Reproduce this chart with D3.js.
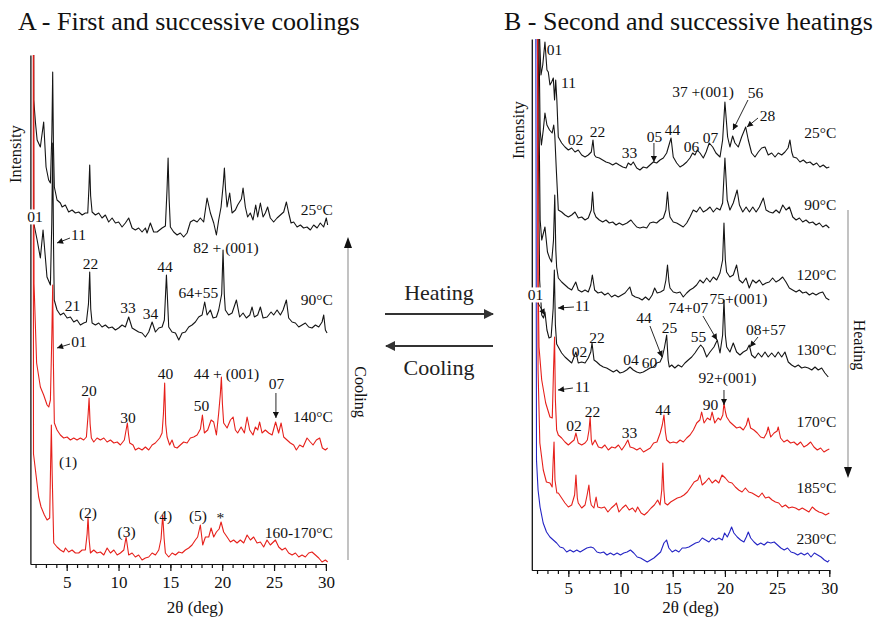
<!DOCTYPE html>
<html><head><meta charset="utf-8">
<script src="https://cdn.jsdelivr.net/npm/d3@7"></script>
<style>
html,body{margin:0;padding:0;background:#fff;}
svg{display:block;font-family:"Liberation Serif","Times New Roman",serif;}
svg text{font-family:"Liberation Serif","Times New Roman",serif !important;}
</style></head><body>
<svg id="chart" width="878" height="619"></svg>
<script>
// ---------- Panel A: first and successive coolings (2θ in deg, stacked intensity) ----------
const cool25 = [[1.75,1000],[1.82,464],[2.0,440],[2.15,424],[2.46,417],[2.78,442],[3.01,397],[3.26,384],[3.43,381],[3.57,430],[3.65,492],[3.72,420],[3.81,377],[4.07,364],[4.39,361],[4.56,357],[4.87,359],[5.19,352],[5.52,354],[5.84,351],[6.16,352],[6.49,349],[6.8,351],[7.03,351],[7.14,375],[7.22,399],[7.31,368],[7.45,352],[7.77,349],[8.09,351],[8.41,346],[8.73,349],[9.05,342],[9.38,346],[9.7,341],[10.01,342],[10.34,337],[10.66,341],[10.98,346],[11.31,336],[11.62,334],[11.94,336],[12.27,332],[12.59,336],[12.75,331],[13.07,341],[13.39,332],[13.72,332],[14.2,336],[14.52,338],[14.68,375],[14.78,406],[14.88,365],[15.0,337],[15.32,332],[15.65,329],[15.96,331],[16.28,327],[16.61,331],[16.93,342],[17.25,344],[17.58,342],[17.89,346],[18.21,342],[18.54,366],[18.86,351],[19.18,341],[19.44,329],[19.66,344],[19.89,357],[20.1,380],[20.21,396],[20.32,375],[20.47,357],[20.72,371],[20.95,351],[21.27,354],[21.49,359],[21.85,365],[22.01,376],[22.23,357],[22.45,347],[22.71,351],[22.97,344],[23.23,359],[23.42,347],[23.68,361],[23.94,347],[24.16,351],[24.38,357],[24.64,346],[24.96,342],[25.29,346],[25.61,349],[25.93,352],[26.19,362],[26.41,351],[26.64,341],[26.89,342],[27.22,337],[27.54,339],[27.85,336],[28.18,337],[28.5,334],[28.82,339],[29.15,336],[29.46,341],[29.78,337],[30.04,346],[30.17,339]];
const cool90 = [[1.75,1000],[1.82,341],[2.15,324],[2.46,306],[2.72,334],[3.1,287],[3.43,279],[3.56,340],[3.65,421],[3.73,320],[3.8,264],[4.07,254],[4.39,249],[4.71,251],[5.04,246],[5.36,247],[5.68,242],[6.0,244],[6.32,239],[6.64,241],[6.9,242],[7.1,260],[7.22,292],[7.32,255],[7.45,241],[7.77,239],[8.09,241],[8.41,237],[8.73,239],[9.05,236],[9.38,237],[9.7,234],[10.01,236],[10.34,239],[10.66,237],[10.98,247],[11.31,236],[11.62,234],[11.94,232],[12.27,231],[12.59,227],[12.91,232],[13.24,242],[13.56,232],[13.88,236],[14.2,237],[14.42,244],[14.62,289],[14.84,237],[15.16,232],[15.49,231],[15.81,224],[16.13,231],[16.45,232],[16.77,237],[17.09,239],[17.41,242],[17.73,247],[18.06,249],[18.31,262],[18.54,249],[18.86,254],[19.12,246],[19.44,247],[19.66,254],[19.95,270],[20.08,314],[20.2,270],[20.3,254],[20.62,249],[20.95,251],[21.37,264],[21.68,247],[22.01,251],[22.33,246],[22.66,249],[22.88,257],[23.1,247],[23.42,249],[23.68,257],[23.94,246],[24.33,247],[24.71,252],[24.96,249],[25.29,254],[25.61,249],[25.87,254],[26.19,264],[26.41,246],[26.74,242],[27.06,241],[27.38,237],[27.7,239],[28.02,241],[28.34,237],[28.66,236],[28.99,239],[29.31,237],[29.63,242],[29.79,249],[29.95,234],[30.11,231]];
const cool140 = [[1.75,1000],[1.85,280],[2.1,201],[2.46,177],[2.78,169],[3.11,159],[3.27,157],[3.43,164],[3.57,230],[3.65,279],[3.72,200],[3.81,141],[4.07,134],[4.39,129],[4.71,126],[5.04,127],[5.36,124],[5.68,126],[6.0,124],[6.32,126],[6.64,124],[6.9,127],[7.07,150],[7.16,166],[7.26,140],[7.38,126],[7.61,122],[7.93,126],[8.25,124],[8.58,126],[8.9,122],[9.22,124],[9.55,121],[9.87,122],[10.18,119],[10.56,124],[10.85,141],[10.96,130],[11.08,121],[11.4,119],[11.62,114],[11.94,116],[12.27,114],[12.59,117],[12.91,114],[13.24,119],[13.55,121],[13.97,126],[14.2,131],[14.33,150],[14.45,181],[14.55,140],[14.68,127],[14.93,119],[15.16,124],[15.39,117],[15.65,116],[15.96,119],[16.28,122],[16.61,121],[16.93,126],[17.25,127],[17.58,129],[17.9,135],[18.09,149],[18.28,131],[18.6,134],[18.93,144],[19.18,142],[19.44,129],[19.66,151],[19.82,170],[19.92,187],[20.02,160],[20.14,141],[20.47,136],[20.79,144],[21.05,147],[21.27,134],[21.49,131],[21.82,137],[22.14,131],[22.4,147],[22.65,134],[22.97,129],[23.2,137],[23.42,134],[23.61,142],[23.84,131],[24.16,134],[24.48,131],[24.81,129],[25.15,142],[25.44,131],[25.68,141],[25.93,127],[26.25,124],[26.57,121],[26.89,119],[27.15,114],[27.47,119],[27.8,117],[28.18,126],[28.5,122],[28.76,119],[29.08,124],[29.4,126],[29.66,116],[29.95,114],[30.17,116]];
const cool165 = [[1.75,1000],[1.8,110],[2.1,84],[2.3,67],[2.53,57],[2.85,49],[3.11,44],[3.36,46],[3.45,100],[3.52,139],[3.6,90],[3.75,21],[4.07,17],[4.39,14],[4.71,12],[4.88,16],[5.19,12],[5.52,14],[5.84,11],[6.16,11],[6.49,14],[6.8,14],[6.97,30],[7.06,47],[7.16,25],[7.29,11],[7.61,14],[7.93,11],[8.25,12],[8.58,9],[8.9,16],[9.22,11],[9.55,14],[9.87,9],[10.18,11],[10.51,14],[10.73,27],[10.98,9],[11.31,11],[11.62,7],[11.94,9],[12.27,4],[12.59,6],[12.91,7],[13.24,11],[13.56,9],[13.88,14],[14.1,25],[14.26,49],[14.4,25],[14.52,11],[14.84,7],[15.17,11],[15.49,9],[15.81,12],[16.13,11],[16.45,14],[16.77,16],[17.09,19],[17.41,24],[17.63,27],[17.89,39],[18.12,19],[18.38,27],[18.7,27],[18.93,36],[19.18,27],[19.44,32],[19.7,35],[19.89,42],[20.14,32],[20.47,27],[20.79,22],[21.1,24],[21.43,21],[21.75,24],[22.07,21],[22.4,29],[22.72,24],[23.03,27],[23.36,21],[23.68,22],[24.0,17],[24.32,24],[24.64,19],[25.13,24],[25.45,17],[25.77,14],[26.09,16],[26.41,11],[26.74,9],[27.06,11],[27.38,7],[27.7,9],[28.02,7],[28.34,11],[28.66,12],[28.99,9],[29.31,6],[29.63,2],[29.95,4],[30.17,2]];

const coolTemps = ["25°C", "90°C", "140°C", "160-170°C"];
const coolTempLevels = [354, 264, 147, 31];
const coolPeakLabels = [
  ["11", 6.14, 329], ["21", 5.56, 258], ["22", 7.3, 300], ["33", 10.91, 256], ["34", 13.08, 250],
  ["44", 14.48, 297], ["64+55", 17.71, 271], ["82 + (001)", 20.36, 316],
  ["01", 6.19, 222], ["20", 7.15, 173], ["40", 14.53, 190], ["44 + (001)", 20.41, 190],
  ["07", 25.23, 180], ["30", 10.91, 146], ["50", 17.99, 158],
  ["(1)", 5.13, 102], ["(2)", 7.05, 51], ["(3)", 10.77, 32], ["(4)", 14.29, 48], ["(5)", 17.66, 48], ["*", 19.83, 46]
];
const coolBoxedLabels = [["01", 1.94, 347]];
const coolArrows = [[5.32, 326, 4.07, 321], [5.32, 220, 4.07, 216], [25.18, 171, 25.18, 146]];

// ---------- Panel B: second and successive heatings ----------
const heat25 = [[1.6,1000],[2.22,540],[2.38,495],[2.55,505],[2.76,528],[2.95,500],[3.08,498],[3.24,485],[3.4,488],[3.56,492],[3.68,470],[3.79,490],[3.9,470],[4.04,433],[4.36,427],[4.68,423],[5.0,420],[5.32,422],[5.64,418],[5.95,420],[6.28,415],[6.6,413],[6.91,415],[7.2,418],[7.36,430],[7.5,415],[7.65,413],[7.97,412],[8.29,410],[8.61,408],[8.92,407],[9.25,405],[9.57,407],[9.88,405],[10.21,403],[10.53,402],[10.74,407],[11.0,405],[11.22,408],[11.55,402],[11.86,400],[12.18,403],[12.51,402],[12.82,405],[13.14,408],[13.46,407],[13.78,410],[14.1,412],[14.42,417],[14.84,432],[15.05,413],[15.38,407],[15.7,403],[16.01,405],[16.34,408],[16.65,412],[16.91,417],[17.13,415],[17.35,420],[17.61,417],[17.93,412],[18.2,418],[18.5,427],[18.83,423],[19.14,417],[19.53,413],[19.78,430],[20.0,468],[20.26,433],[20.48,423],[20.74,434],[20.96,427],[21.28,423],[21.6,433],[21.99,443],[22.24,430],[22.56,417],[22.88,413],[23.2,418],[23.52,422],[23.84,423],[24.15,415],[24.48,417],[24.8,413],[25.11,417],[25.44,415],[25.75,418],[26.05,422],[26.23,430],[26.4,418],[26.55,413],[26.87,412],[27.19,408],[27.51,410],[27.83,407],[28.15,408],[28.47,405],[28.79,407],[29.1,403],[29.42,405],[29.75,402],[30.0,403]];
const heat90 = [[1.6,1000],[2.3,440],[2.42,425],[2.6,440],[2.76,457],[2.95,445],[3.2,440],[3.45,437],[3.6,445],[3.7,435],[3.85,400],[4.04,360],[4.36,358],[4.68,355],[5.0,353],[5.32,355],[5.64,358],[5.95,352],[6.28,353],[6.6,350],[6.91,352],[7.2,360],[7.32,378],[7.45,358],[7.65,353],[7.97,350],[8.29,348],[8.61,350],[8.92,347],[9.25,348],[9.57,345],[9.88,347],[10.21,345],[10.62,347],[11.0,350],[11.22,347],[11.55,343],[11.86,342],[12.18,343],[12.51,342],[12.82,347],[13.14,348],[13.46,347],[13.78,350],[14.1,352],[14.35,360],[14.5,378],[14.64,360],[14.74,353],[15.05,348],[15.38,347],[15.7,345],[16.01,343],[16.34,347],[16.65,353],[16.97,360],[17.29,358],[17.61,363],[17.93,358],[18.25,360],[18.57,363],[18.89,358],[19.21,362],[19.53,360],[19.78,367],[20.0,412],[20.22,370],[20.48,360],[20.8,367],[21.17,380],[21.39,365],[21.71,358],[22.03,363],[22.35,358],[22.67,363],[22.99,358],[23.3,363],[23.68,372],[23.94,360],[24.27,358],[24.59,357],[24.9,360],[25.22,357],[25.54,365],[25.86,360],[26.18,363],[26.5,353],[26.82,350],[27.14,352],[27.45,348],[27.77,350],[28.09,347],[28.41,348],[28.73,345],[29.05,347],[29.37,343],[29.69,345],[30.0,342]];
const heat120 = [[1.6,1000],[2.3,350],[2.45,330],[2.76,343],[3.0,318],[3.2,312],[3.4,308],[3.58,330],[3.7,375],[3.8,320],[3.88,303],[4.04,292],[4.36,288],[4.68,285],[5.0,282],[5.32,280],[5.71,288],[5.95,280],[6.28,278],[6.6,280],[6.91,278],[7.15,285],[7.3,295],[7.52,280],[7.84,277],[8.17,278],[8.49,275],[8.81,277],[9.14,273],[9.46,275],[9.78,273],[10.11,275],[10.43,277],[10.89,283],[11.11,275],[11.42,273],[11.75,272],[12.07,270],[12.39,273],[12.72,270],[13.03,275],[13.27,282],[13.51,277],[13.83,278],[14.15,280],[14.35,290],[14.5,305],[14.64,288],[14.74,282],[15.05,278],[15.38,277],[15.7,278],[16.01,273],[16.34,277],[16.65,280],[16.97,282],[17.29,285],[17.61,290],[17.93,287],[18.25,292],[18.57,288],[18.89,293],[19.21,290],[19.53,297],[19.78,310],[19.91,347],[20.04,310],[20.16,298],[20.48,293],[20.8,295],[21.12,305],[21.37,290],[21.7,287],[22.02,292],[22.33,282],[22.66,290],[22.98,287],[23.3,290],[23.62,285],[23.94,287],[24.25,288],[24.57,292],[24.89,288],[25.21,290],[25.53,293],[25.85,288],[26.17,282],[26.49,280],[26.82,278],[27.13,280],[27.45,277],[27.77,278],[28.09,275],[28.41,277],[28.73,275],[29.05,277],[29.37,278],[29.69,272],[30.0,270]];
const heat130 = [[1.6,1000],[2.25,290],[2.45,255],[2.62,252],[2.76,258],[2.95,240],[3.15,232],[3.35,233],[3.55,262],[3.66,300],[3.76,245],[3.88,226],[4.04,223],[4.36,217],[4.68,213],[5.0,210],[5.32,207],[5.54,213],[5.73,218],[5.95,207],[6.28,208],[6.6,207],[6.91,212],[7.15,218],[7.27,227],[7.46,210],[7.72,208],[8.03,205],[8.35,203],[8.67,202],[8.99,200],[9.31,198],[9.63,200],[9.95,197],[10.27,198],[10.59,200],[10.91,203],[11.22,200],[11.55,198],[11.86,197],[12.18,198],[12.51,200],[12.82,202],[13.14,203],[13.46,207],[13.78,208],[14.0,213],[14.2,222],[14.42,235],[14.56,210],[14.67,203],[14.9,205],[15.2,202],[15.53,205],[15.86,203],[16.17,207],[16.49,210],[16.82,213],[17.13,217],[17.45,222],[17.68,225],[17.93,222],[18.25,213],[18.57,218],[18.95,223],[19.27,230],[19.53,217],[19.78,235],[19.91,270],[20.04,235],[20.17,223],[20.48,218],[20.8,227],[21.12,218],[21.44,215],[21.76,218],[22.1,220],[22.33,225],[22.56,215],[22.88,212],[23.2,217],[23.52,213],[23.84,218],[24.15,213],[24.48,217],[24.8,213],[25.11,218],[25.44,213],[25.75,218],[26.07,208],[26.39,205],[26.71,203],[27.03,205],[27.35,202],[27.67,203],[27.99,202],[28.32,200],[28.63,203],[28.94,200],[29.27,202],[29.58,197],[29.9,193]];
const heat170 = [[1.98,1000],[2.1,300],[2.19,223],[2.45,190],[2.83,167],[3.24,153],[3.46,152],[3.58,200],[3.68,233],[3.76,170],[3.88,140],[4.04,135],[4.36,132],[4.68,128],[5.0,125],[5.32,128],[5.55,130],[5.73,137],[5.95,127],[6.28,125],[6.6,127],[6.82,130],[6.98,140],[7.09,153],[7.2,130],[7.3,125],[7.56,130],[7.88,123],[8.2,122],[8.5,125],[8.83,120],[9.16,123],[9.48,122],[9.8,125],[10.12,120],[10.44,125],[10.7,130],[10.92,123],[11.24,122],[11.56,120],[11.88,122],[12.2,118],[12.53,120],[12.85,122],[13.17,127],[13.49,128],[13.8,137],[14.0,145],[14.16,155],[14.3,138],[14.42,130],[14.74,127],[15.06,128],[15.38,127],[15.7,130],[16.02,128],[16.34,132],[16.66,135],[16.98,140],[17.3,147],[17.6,150],[17.77,158],[18.0,147],[18.32,152],[18.6,150],[18.77,158],[19.03,147],[19.35,152],[19.58,150],[19.8,155],[19.91,167],[20.05,158],[20.17,153],[20.48,148],[20.8,145],[21.12,142],[21.44,143],[21.76,140],[22.05,145],[22.23,152],[22.46,142],[22.78,140],[23.1,137],[23.42,133],[23.74,132],[24.0,137],[24.15,143],[24.39,133],[24.71,137],[25.0,139],[25.11,143],[25.33,132],[25.65,128],[25.97,130],[26.29,127],[26.61,128],[26.93,125],[27.25,128],[27.57,123],[27.89,125],[28.21,128],[28.53,123],[28.85,120],[29.17,122],[29.49,118],[29.8,120],[30.0,121]];
const heat185 = [[1.98,1000],[2.1,200],[2.27,127],[2.6,100],[2.9,88],[3.24,87],[3.45,83],[3.55,110],[3.63,128],[3.72,90],[3.9,77],[4.04,77],[4.36,72],[4.68,67],[5.0,63],[5.32,65],[5.6,75],[5.73,95],[5.86,72],[5.95,67],[6.28,62],[6.6,65],[6.8,75],[6.97,85],[7.1,70],[7.2,65],[7.45,62],[7.66,73],[7.82,63],[8.16,62],[8.47,63],[8.79,58],[9.12,62],[9.45,65],[9.6,67],[9.85,58],[10.17,62],[10.5,65],[10.83,60],[11.15,62],[11.43,58],[11.64,63],[11.97,57],[12.28,55],[12.6,58],[12.93,62],[13.24,65],[13.56,70],[13.79,65],[13.95,80],[14.05,107],[14.15,80],[14.25,67],[14.5,65],[14.8,68],[15.12,70],[15.44,72],[15.76,73],[16.08,75],[16.4,78],[16.73,83],[17.05,88],[17.4,90],[17.6,95],[17.82,85],[18.14,88],[18.46,92],[18.78,87],[19.1,90],[19.42,87],[19.72,95],[20.04,92],[20.36,88],[20.68,87],[21.0,83],[21.32,80],[21.64,78],[21.96,82],[22.28,78],[22.6,77],[22.92,75],[23.24,73],[23.56,77],[23.88,72],[24.2,73],[24.52,70],[24.84,68],[25.16,67],[25.48,63],[25.8,65],[26.12,62],[26.44,63],[26.77,62],[27.09,60],[27.41,62],[27.73,60],[28.05,58],[28.37,63],[28.69,60],[29.01,58],[29.33,57],[29.65,55],[30.0,57]];
const heat230 = [[1.82,1000],[1.95,110],[2.1,80],[2.29,63],[2.59,47],[2.91,38],[3.24,33],[3.56,30],[3.88,27],[4.2,23],[4.52,22],[4.84,18],[5.17,20],[5.49,18],[5.81,20],[6.13,18],[6.45,20],[6.77,22],[7.16,23],[7.42,22],[7.74,18],[8.06,17],[8.38,18],[8.7,15],[9.03,17],[9.35,15],[9.67,17],[9.99,15],[10.31,17],[10.63,18],[10.95,20],[11.27,17],[11.6,13],[11.92,12],[12.24,10],[12.56,8],[12.88,10],[13.2,12],[13.52,15],[13.84,18],[14.16,27],[14.41,30],[14.63,22],[14.95,18],[15.27,20],[15.59,18],[15.91,22],[16.23,22],[16.55,23],[16.87,25],[17.19,27],[17.51,28],[17.83,32],[18.15,30],[18.47,28],[18.79,32],[19.11,30],[19.43,32],[19.75,30],[19.97,37],[20.23,33],[20.45,38],[20.64,43],[20.86,37],[21.18,33],[21.5,30],[21.82,28],[22.05,33],[22.24,38],[22.47,32],[22.79,28],[23.11,25],[23.43,27],[23.76,25],[24.08,28],[24.4,27],[24.72,28],[25.04,25],[25.36,22],[25.68,20],[26.0,22],[26.33,18],[26.65,17],[26.97,15],[27.29,17],[27.61,15],[27.93,17],[28.25,13],[28.57,17],[28.89,15],[29.21,13],[29.53,10],[29.85,8],[30.0,10]];

const heatTemps = ["25°C", "90°C", "120°C", "130°C", "170°C", "185°C", "230°C"];
const heatTempLevels = [437, 365, 295, 220, 148, 82, 31];
const heatPeakLabels = [
  ["01", 3.67, 520], ["11", 5.02, 487], ["02", 5.69, 430], ["22", 7.79, 438], ["33", 10.86, 417], ["05", 13.25, 433],
  ["44", 14.97, 440], ["06", 16.8, 423], ["07", 18.62, 432], ["37 +(001)", 17.9, 478], ["56", 22.93, 477], ["28", 24.08, 454],
  ["11", 6.36, 264], ["02", 6.07, 218], ["22", 7.75, 232], ["04", 11.0, 210], ["60", 12.77, 207], ["44", 12.25, 252],
  ["25", 14.69, 242], ["55", 17.47, 233], ["74+07", 16.51, 262], ["75+(001)", 21.3, 271], ["08+57", 23.93, 240],
  ["92+(001)", 20.25, 192], ["11", 6.36, 183], ["02", 5.54, 144], ["22", 7.31, 158], ["33", 10.86, 137], ["44", 14.07, 160], ["90", 18.62, 165]
];
const heatBoxedLabels = [["01", 1.85, 275]];
const heatArrows = [[13.2, 427, 13.2, 408], [22.21, 470, 20.77, 440], [23.17, 452, 22.11, 443], [2.09, 267, 2.76, 255],
  [5.54, 263, 4.01, 262], [17.9, 254, 19.24, 230], [12.82, 244, 13.97, 213], [23.17, 233, 22.4, 223],
  [19.91, 180, 19.91, 165], [5.44, 182, 4.01, 180]];

const thetaTicks = [5, 10, 15, 20, 25, 30];

// ---------- drawing ----------
const SERIF = "'Liberation Serif', 'Times New Roman', serif";
const svg = d3.select("#chart");
const defs = svg.append("defs");
defs.append("marker").attr("id", "head").attr("viewBox", "0 0 10 10")
  .attr("refX", 10).attr("refY", 5).attr("markerUnits", "userSpaceOnUse")
  .attr("markerWidth", 7).attr("markerHeight", 6).attr("orient", "auto")
  .append("path").attr("d", "M0,0L10,5L0,10z").attr("fill", "#111");
defs.append("marker").attr("id", "bighead").attr("viewBox", "0 0 10 10")
  .attr("refX", 9).attr("refY", 5).attr("markerUnits", "userSpaceOnUse")
  .attr("markerWidth", 15).attr("markerHeight", 10).attr("orient", "auto")
  .append("path").attr("d", "M0,0L10,5L0,10z").attr("fill", "#333");

const BLACK = "#151515", RED = "#e6201b", BLUE = "#2424c4";

function drawPanel(cfg) {
  const x = d3.scaleLinear().domain([1.5, 30]).range(cfg.xr);
  const y = d3.scaleLinear().domain([0, cfg.imax]).range(cfg.yr);
  const g = svg.append("g");
  const clipId = "clip" + cfg.id;
  defs.append("clipPath").attr("id", clipId).append("rect")
    .attr("x", cfg.xr[0]).attr("y", cfg.yr[1])
    .attr("width", cfg.xr[1] - cfg.xr[0] + 6).attr("height", cfg.yr[0] - cfg.yr[1]);

  const line = d3.line().x(d => x(d[0])).y(d => y(d[1]));
  const traces = g.append("g").attr("clip-path", `url(#${clipId})`);
  cfg.traces.forEach((t, i) => {
    traces.append("path").datum(t).attr("d", line)
      .attr("fill", "none").attr("stroke", cfg.colors[i])
      .attr("stroke-width", 1.1).attr("stroke-linejoin", "round");
  });

  // 2θ axis: minor ticks every degree, labelled ticks every 5°
  const minor = d3.axisBottom(x).tickValues(d3.range(2, 31)).tickSize(4).tickFormat("").tickSizeOuter(0);
  const major = d3.axisBottom(x).tickValues(thetaTicks).tickSize(7).tickSizeOuter(0).tickPadding(5);
  const ax1 = g.append("g").attr("transform", `translate(0,${cfg.yr[0]})`).call(minor);
  const ax2 = g.append("g").attr("transform", `translate(0,${cfg.yr[0]})`).call(major);
  [ax1, ax2].forEach(a => {
    a.attr("font-family", SERIF);
    a.selectAll("path,line").attr("stroke", "#111").attr("stroke-width", 1.2);
    a.selectAll("text").style("font-family", SERIF).attr("font-size", 17).attr("fill", "#111");
  });
  const yAx = g.append("g").attr("transform", `translate(${cfg.xr[0]},0)`)
    .call(d3.axisLeft(y).tickValues([]).tickSizeOuter(0));
  yAx.selectAll("path").attr("stroke", "#111").attr("stroke-width", 1.3);

  g.append("text").attr("x", (cfg.xr[0] + cfg.xr[1]) / 2 + cfg.titleShift).attr("y", 613)
    .attr("text-anchor", "middle").attr("font-size", 17).attr("fill", "#111").text("2θ (deg)");
  g.append("text").attr("transform", `translate(${cfg.intX},${cfg.intY}) rotate(-90)`)
    .attr("text-anchor", "middle").attr("font-size", 16.5).attr("fill", "#111").text("Intensity");

  // temperature of each pattern
  cfg.temps.forEach((t, i) => {
    g.append("text").attr("x", cfg.xr[1] + 7).attr("y", y(cfg.tempLevels[i])).attr("dy", "0.35em")
      .attr("text-anchor", "end").attr("font-size", 15.5).attr("fill", "#111").text(t);
  });
  // reflection indices
  cfg.peaks.forEach(p => {
    g.append("text").attr("x", x(p[1])).attr("y", y(p[2])).attr("dy", "0.35em")
      .attr("text-anchor", "middle").attr("font-size", 15.5).attr("fill", "#111").text(p[0]);
  });
  cfg.arrows.forEach(a => {
    g.append("line").attr("x1", x(a[0])).attr("y1", y(a[1])).attr("x2", x(a[2])).attr("y2", y(a[3]))
      .attr("stroke", "#111").attr("stroke-width", 0.9).attr("marker-end", "url(#head)");
  });
  cfg.boxed.forEach(p => {
    const t = g.append("text").attr("x", x(p[1])).attr("y", y(p[2])).attr("dy", "0.35em")
      .attr("text-anchor", "middle").attr("font-size", 15.5).attr("fill", "#111").text(p[0]);
    const b = t.node().getBBox();
    g.insert("rect", () => t.node()).attr("x", b.x - 1).attr("y", b.y + 1)
      .attr("width", b.width + 2).attr("height", b.height - 2).attr("fill", "#fff");
  });
  g.append("text").attr("x", cfg.titleX).attr("y", 30).attr("font-size", 26).attr("fill", "#111").text(cfg.title);
}

drawPanel({
  id: "A", xr: [30.4, 325.9], yr: [564, 55], imax: 509,
  traces: [cool25, cool90, cool140, cool165], colors: [BLACK, BLACK, RED, RED],
  temps: coolTemps, tempLevels: coolTempLevels, peaks: coolPeakLabels, arrows: coolArrows, boxed: coolBoxedLabels,
  intX: 21, intY: 154, titleShift: 17, title: "A - First and successive coolings", titleX: 18
});
drawPanel({
  id: "B", xr: [531.8, 829.3], yr: [570, 39], imax: 531,
  traces: [heat25, heat90, heat120, heat130, heat170, heat185, heat230], colors: [BLACK, BLACK, BLACK, BLACK, RED, RED, BLUE],
  temps: heatTemps, tempLevels: heatTempLevels, peaks: heatPeakLabels, arrows: heatArrows, boxed: heatBoxedLabels,
  intX: 524, intY: 130, titleShift: 10, title: "B - Second and successive heatings", titleX: 504
});

// measurement order arrows beside each panel
svg.append("line").attr("x1", 348).attr("y1", 560).attr("x2", 348).attr("y2", 246)
  .attr("stroke", "#9a9a9a").attr("stroke-width", 1.2);
svg.append("path").attr("d", "M344,248L348,237L352,248z").attr("fill", "#111");
svg.append("text").attr("transform", "translate(355,392) rotate(90)").attr("text-anchor", "middle")
  .attr("font-size", 16).attr("fill", "#111").text("Cooling");

svg.append("line").attr("x1", 848).attr("y1", 210).attr("x2", 848).attr("y2", 468)
  .attr("stroke", "#9a9a9a").attr("stroke-width", 1.2);
svg.append("path").attr("d", "M844,467L848,478L852,467z").attr("fill", "#111");
svg.append("text").attr("transform", "translate(854,345) rotate(90)").attr("text-anchor", "middle")
  .attr("font-size", 16).attr("fill", "#111").text("Heating");

// heating / cooling arrows between the panels
svg.append("line").attr("x1", 385).attr("y1", 314).attr("x2", 493).attr("y2", 314)
  .attr("stroke", "#333").attr("stroke-width", 1.8).attr("marker-end", "url(#bighead)");
svg.append("line").attr("x1", 493).attr("y1", 346).attr("x2", 386).attr("y2", 346)
  .attr("stroke", "#333").attr("stroke-width", 1.8).attr("marker-end", "url(#bighead)");
svg.append("text").attr("x", 439).attr("y", 300).attr("text-anchor", "middle")
  .attr("font-size", 22).attr("fill", "#222").text("Heating");
svg.append("text").attr("x", 439).attr("y", 375).attr("text-anchor", "middle")
  .attr("font-size", 22).attr("fill", "#222").text("Cooling");
</script>
</body></html>
